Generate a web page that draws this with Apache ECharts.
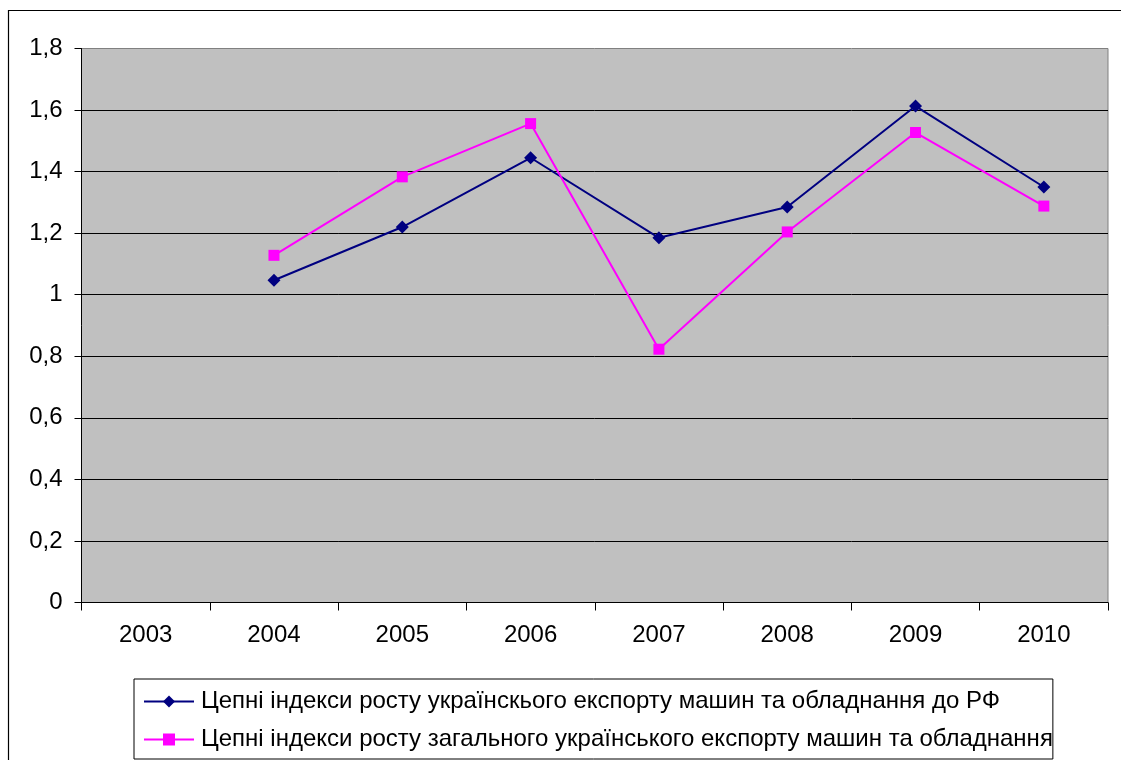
<!DOCTYPE html>
<html>
<head>
<meta charset="utf-8">
<script src="https://cdn.jsdelivr.net/npm/echarts@6/dist/echarts.min.js"></script>
<style>
html,body{margin:0;padding:0;background:#fff;}
#c{width:1121px;height:760px;}
</style>
</head>
<body>
<div id="c"></div>
<script>
var years = ['2003','2004','2005','2006','2007','2008','2009','2010'];
var seriesNames = [
  'Цепні індекси росту українскього експорту машин та обладнання до РФ',
  'Цепні індекси росту загального українського експорту машин та обладнання'
];
var exportToRF = [null, 1.047, 1.220, 1.445, 1.185, 1.285, 1.613, 1.350];
var exportTotal = [null, 1.128, 1.383, 1.556, 0.823, 1.204, 1.527, 1.288];
var yTicks = {min: 0, max: 1.8, interval: 0.2};

var FONT = '"Liberation Sans", Arial, sans-serif';
var chart = echarts.init(document.getElementById('c'), null, {renderer: 'canvas'});
chart.setOption({
  animation: false,
  backgroundColor: '#ffffff',
  graphic: [{
    type: 'rect',
    shape: {x: 8.5, y: 10.5, width: 1130, height: 780},
    style: {fill: 'none', stroke: '#000', lineWidth: 1.2},
    silent: true
  }],
  grid: {
    left: 81.5, top: 48.5, right: 13, bottom: 157.5,
    show: true, backgroundColor: '#c0c0c0', borderColor: '#808080', borderWidth: 1,
    containLabel: false
  },
  xAxis: {
    type: 'category',
    data: years,
    boundaryGap: true,
    axisLine: {show: true, lineStyle: {color: '#000', width: 1}},
    axisTick: {show: true, length: 8, lineStyle: {color: '#000'}},
    axisLabel: {color: '#000', fontFamily: FONT, fontSize: 24, margin: 21},
    splitLine: {show: false}
  },
  yAxis: {
    type: 'value',
    min: yTicks.min, max: yTicks.max, interval: yTicks.interval,
    axisLine: {show: true, lineStyle: {color: '#000', width: 1}},
    axisTick: {show: true, length: 7, lineStyle: {color: '#000'}},
    axisLabel: {
      color: '#000', fontFamily: FONT, fontSize: 24, margin: 19,
      formatter: function (v) {
        var s = (Math.round(v * 10) / 10).toString();
        return s.replace('.', ',');
      }
    },
    splitLine: {show: true, showMaxLine: false, lineStyle: {color: '#000', width: 1}}
  },
  legend: {
    orient: 'vertical',
    left: 134, top: 679,
    padding: [9, 0, 6, 9],
    itemGap: 11,
    itemWidth: 50, itemHeight: 15,
    borderColor: '#000', borderWidth: 1,
    backgroundColor: '#fff',
    textStyle: {color: '#000', fontFamily: FONT, fontSize: 24, lineHeight: 27, padding: [0, 0, 0, 2]},
    data: seriesNames
  },
  series: [
    {
      name: seriesNames[0], type: 'line', data: exportToRF,
      symbol: 'diamond', symbolSize: 13,
      lineStyle: {color: '#000080', width: 2},
      itemStyle: {color: '#000080'},
      connectNulls: false
    },
    {
      name: seriesNames[1], type: 'line', data: exportTotal,
      symbol: 'rect', symbolSize: 11,
      lineStyle: {color: '#ff00ff', width: 2},
      itemStyle: {color: '#ff00ff'},
      connectNulls: false
    }
  ]
});
</script>
</body>
</html>
